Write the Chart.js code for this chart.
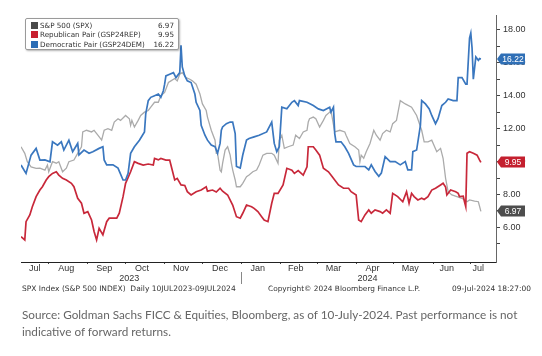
<!DOCTYPE html>
<html><head><meta charset="utf-8">
<script src="https://cdn.jsdelivr.net/npm/chart.js@4/dist/chart.umd.min.js"></script>
<style>
html,body{margin:0;padding:0;background:#fff;}
#wrap{position:relative;width:542px;height:356px;overflow:hidden;font-family:"Liberation Sans",Arial,sans-serif;}
#c{position:absolute;left:0;top:0;}
.t{position:absolute;white-space:pre;line-height:1;}
#legend{position:absolute;left:25px;top:18px;width:152px;height:30px;border:1px solid #9a9a9a;border-radius:2px;background:#fff;box-shadow:1px 1px 2px rgba(0,0,0,0.3);font-family:"DejaVu Sans",sans-serif;font-size:7.2px;color:#333;}
.row{position:absolute;left:0;right:0;height:9px;}
.sq{position:absolute;left:5px;top:1px;width:7px;height:7px;}
.lb{position:absolute;left:14px;top:0;white-space:nowrap;}
.vl{position:absolute;right:4px;top:0;white-space:nowrap;}
</style></head>
<body>
<div id="wrap">
<canvas id="c" width="542" height="356"></canvas>
<div id="legend"></div>
<div class="t fit" id="f1" data-w="214" style="left:22px;top:285px;color:#333;font-family:'DejaVu Sans',sans-serif;">SPX Index (S&amp;P 500 INDEX)  Daily 10JUL2023-09JUL2024</div>
<div class="t fit" id="f2" data-w="152" style="left:268px;top:285px;color:#333;font-family:'DejaVu Sans',sans-serif;">Copyright© 2024 Bloomberg Finance L.P.</div>
<div class="t fit" id="f3" data-w="79" style="left:452px;top:285px;color:#333;font-family:'DejaVu Sans',sans-serif;">09-Jul-2024 18:27:00</div>
<div class="t fit" id="s1" data-w="496" style="left:22px;top:309px;color:#666;font-family:Lato,sans-serif;">Source: Goldman Sachs FICC &amp; Equities, Bloomberg, as of 10-July-2024. Past performance is not</div>
<div class="t" id="s2" style="left:22px;top:326px;color:#666;font-family:Lato,sans-serif;">indicative of forward returns.</div>
</div>
<script>
// ---- data (x = days since 2023-07-01) ----
const seriesNames = ['S&P 500 (SPX)', 'Republican Pair (GSP24REP)', 'Democratic Pair (GSP24DEM)'];

const spxDays = [9,12,14,17,21,24,28,30,31,34, 37,39,42,45,47,51,54,57,58,61, 65,67,70,73,75,78,81,83,86,88, 92,95,96,97,99,102,104,107,110,112, 115,118,120,123,126,128,131,133,135,137, 140,143,145,148,151,153,156,157,160,163, 164,165,167,168,169,171,173,175,176,177, 179,180,183,185,188,190,193,196,198,201, 204,208,210,213,214,216,218,221,225,227, 230,233,236,237,238,241,243,246,249,251, 254,255,258,262,266,267,270,274,277,278, 279,281,283,286,289,291,294,296,299,302, 304,307,310,314,319,323,327,329,332,335, 339,342,344,346,348,351,355,359,363,365, 369,372,374];
const spxValues = [10.9,10.5,9.99,9.68,9.59,9.6,9.48,9.79,9.38,9.99, 9.9,9.99,9.38,9.6,9.99,10.09,10.5,10.9,11.8,11.9, 11.8,11.9,11.6,11.3,11.9,12.0,11.9,12.4,12.6,12.5, 12.8,12.6,12.2,12.5,12.1,12.5,12.8,13.0,13.1,13.3, 13.6,13.6,14.0,14.2,14.8,14.9,15.04,14.9,15.3,15.4, 15.1,15.0,14.9,14.7,14.1,13.5,13.1,12.7,11.9,11.3, 10.5,10.5,9.48,9.38,9.89,10.7,10.9,10.39,9.89,9.5, 8.88,8.47,8.47,8.68,9.08,9.18,9.38,9.48,9.79,10.39, 10.5,10.5,10.39,9.89,11.3,11.6,10.8,10.9,11.0,11.6, 11.4,11.8,11.9,12.4,12.6,12.7,12.6,12.1,12.5,12.8, 13.0,13.1,11.8,11.9,11.8,11.6,11.1,10.9,10.7,9.99, 10.39,10.2,10.6,11.1,11.9,11.6,11.3,11.7,11.9,11.8, 12.3,12.5,13.7,13.5,13.3,12.8,11.9,11.2,11.2,11.3, 10.6,10.8,10.2,8.98,8.17,7.97,7.87,7.77,7.56,7.67, 7.6,7.56,6.97];

const repDays = [9,12,13,16,18,21,24,26,29,31, 34,37,39,42,45,49,51,54,57,59, 62,65,67,69,71,74,77,79,85,87, 90,92,96,99,102,106,110,114,115,118, 120,124,127,128,131,133,136,139,141,144, 148,152,156,157,161,164,167,169,173,177, 180,183,185,188,192,194,197,200,202,205, 208,210,213,217,220,224,226,229,233,236, 237,241,243,246,249,253,255,258,261,265, 269,271,275,277,279,282,285,287,290,294, 296,299,302,304,308,312,315,317,319,321, 324,327,329,332,335,338,342,344,346,347, 350,354,356,357,360,361,362,363,365,368, 371,373,374];
const repValues = [5.44,5.24,6.35,6.76,7.26,7.87,8.27,8.47,8.88,9.08, 9.28,9.38,9.18,8.98,8.88,8.68,8.47,7.77,7.47,6.86, 6.96,6.45,5.75,5.24,5.95,5.55,6.35,6.56,6.56,6.86, 7.87,8.68,9.38,9.99,9.89,9.79,9.85,9.79,10.19,10.1, 10.19,10.09,10.09,9.79,8.88,8.98,8.58,8.55,8.17,7.97, 8.17,8.27,8.47,8.2,8.27,8.15,8.38,8.2,7.97,7.36, 6.65,6.56,6.86,7.36,7.26,7.16,6.96,6.65,6.45,6.35, 7.47,8.07,8.07,8.58,9.59,9.48,9.28,9.45,9.18,9.68, 10.9,10.9,10.7,10.39,9.59,9.38,9.18,8.88,8.58,8.38, 8.38,8.17,7.97,6.45,6.35,6.76,7.06,6.86,7.06,6.96, 6.86,7.06,6.86,8.07,7.87,7.56,8.17,7.47,8.07,7.87, 7.67,7.77,7.7,7.87,8.27,8.38,8.58,8.68,8.45,7.97, 8.27,8.17,8.07,7.87,7.9,7.56,7.26,10.5,10.6,10.5, 10.39,10.09,9.95];

const demDays = [9,13,17,21,24,28,32,34,38,41, 43,47,50,54,55,59,63,66,71,74, 75,77,82,86,90,92,94,96,99,103, 107,108,110,112,115,118,120,122,123,124, 127,130,132,135,136,137,139,141,144,147, 148,151,152,155,157,160,163,165,167,168, 169,172,175,177,179,180,183,185,188,190, 194,198,204,208,210,212,214,216,220,224, 226,229,230,236,241,245,249,254,255,257, 258,259,263,266,269,273,275,282,285,287, 290,293,295,298,302,306,310,314,316,319, 320,323,326,327,330,333,335,338,340,343, 346,348,352,355,356,359,362,363,365,366, 367,368,370,372,373,374];
const demValues = [9.79,9.28,10.39,10.8,10.09,10.1,9.99,11.2,11.0,11.2, 10.7,11.3,10.6,11.1,10.4,10.7,10.5,10.6,10.8,10.9, 10.1,9.8,9.8,9.6,8.88,8.88,9.28,10.5,10.9,11.3, 11.8,12.9,13.7,13.9,14.0,14.1,13.9,14.3,14.7,15.2, 15.3,15.4,15.1,15.4,17.06,15.75,15.2,14.9,14.8,14.1, 13.6,13.1,12.2,11.6,11.3,11.0,10.9,10.5,11.1,11.9, 12.1,12.3,12.4,12.4,11.7,9.7,9.6,10.4,11.3,11.4, 11.5,11.6,11.8,12.4,11.1,10.6,10.9,13.3,13.2,13.6, 13.7,13.4,13.7,13.6,13.4,13.2,13.1,13.3,13.0,13.3, 11.7,11.2,11.2,10.9,10.5,9.8,9.7,9.7,9.5,9.8, 9.4,9.1,9.3,10.3,10.0,10.0,9.8,10.0,9.5,9.5, 10.6,10.7,12.2,13.7,13.5,13.2,12.8,12.3,12.6,13.4, 13.6,13.8,13.7,13.7,15.1,15.1,14.7,14.7,17.5,17.8, 16.9,15.0,16.35,16.15,16.25,16.22];

// axis ticks
const monthStarts = [31,62,92,123,153,184,215,244,275,305,336,366];
const monthLabelDays = [20,45,75,105,136,167,197,227,257,288,318,347,372];
const monthLabels = ['Jul','Aug','Sep','Oct','Nov','Dec','Jan','Feb','Mar','Apr','May','Jun','Jul'];
const yearLabelDays = [95,284];
const yearLabels = ['2023','2024'];
const yearSplitDay = 184;
const yTickValues = [5,6,7,8,9,10,11,12,13,14,15,16,17,18];
const yLabelValues = [6,8,10,12,14,16,18];

// styles
const lineColors = ['#ababab', '#c8283a', '#3a77bf'];
const legendColors = ['#4a4a4a', '#c8202f', '#2c6db5'];
const boxColors = ['#4d4d4d', '#c41f2e', '#2f6fb6'];

// ---- legend (HTML) ----
const lastVals = [spxValues[spxValues.length-1], repValues[repValues.length-1], demValues[demValues.length-1]];
const lg = document.getElementById('legend');
seriesNames.forEach((n,i)=>{
  const r = document.createElement('div'); r.className='row'; r.style.top=(2+i*9.3)+'px';
  r.innerHTML = '<div class="sq" style="background:'+legendColors[i]+'"></div><div class="lb"></div><div class="vl"></div>';
  r.querySelector('.lb').textContent = n;
  r.querySelector('.vl').textContent = lastVals[i].toFixed(2);
  lg.appendChild(r);
});

// fit text widths
const mctx = document.createElement('canvas').getContext('2d');
document.querySelectorAll('.fit').forEach(el=>{
  const fam = getComputedStyle(el).fontFamily;
  mctx.font = '100px ' + fam;
  const w = mctx.measureText(el.textContent).width;
  const size = 100 * (+el.dataset.w) / w;
  el.style.fontSize = size.toFixed(2) + 'px';
  if (el.id === 's1') document.getElementById('s2').style.fontSize = size.toFixed(2)+'px';
});

// ---- chart ----
const xLabelMap = new Map();
monthLabelDays.forEach((d,i)=>xLabelMap.set(d, monthLabels[i]));
yearLabelDays.forEach((d,i)=>xLabelMap.set(d, ['', yearLabels[i]]));
const xTickValues = [...monthStarts, ...monthLabelDays, ...yearLabelDays].sort((a,b)=>a-b);

const toPts = (xs, ys) => xs.map((d,i)=>({x:d, y:ys[i]}));

const markers = {
  id: 'markers',
  afterDraw(chart){
    const {ctx, scales:{x, y}} = chart;
    ctx.save();
    const sx = Math.round(x.getPixelForValue(yearSplitDay)) + 0.5;
    ctx.strokeStyle = '#888'; ctx.lineWidth = 1;
    ctx.beginPath(); ctx.moveTo(sx, 272); ctx.lineTo(sx, 284); ctx.stroke();
    [0,1,2].forEach(i=>{
      const v = lastVals[i];
      const py = Math.round(y.getPixelForValue(v));
      const x0 = chart.chartArea.right + 1;
      ctx.fillStyle = boxColors[i];
      ctx.beginPath();
      ctx.moveTo(x0, py);
      ctx.lineTo(x0+4, py-5.5);
      ctx.lineTo(x0+28, py-5.5);
      ctx.lineTo(x0+28, py+5.5);
      ctx.lineTo(x0+4, py+5.5);
      ctx.closePath(); ctx.fill();
      ctx.fillStyle = '#fff';
      ctx.font = '8.5px "Liberation Sans"';
      ctx.textAlign = 'center'; ctx.textBaseline = 'middle';
      ctx.fillText(v.toFixed(2), x0+16, py+0.5);
    });
    ctx.restore();
  }
};

new Chart(document.getElementById('c'), {
  type: 'line',
  data: {
    datasets: [
      {label: seriesNames[0], data: toPts(spxDays, spxValues), borderColor: lineColors[0], borderWidth: 1.3, pointRadius: 0, tension: 0, order: 3},
      {label: seriesNames[1], data: toPts(repDays, repValues), borderColor: lineColors[1], borderWidth: 1.7, pointRadius: 0, tension: 0, order: 2},
      {label: seriesNames[2], data: toPts(demDays, demValues), borderColor: lineColors[2], borderWidth: 1.7, pointRadius: 0, tension: 0, order: 1}
    ]
  },
  options: {
    responsive: false, animation: false, devicePixelRatio: 1,
    layout: {padding: {left: 21, top: 15, right: 0, bottom: 0}},
    plugins: {legend: {display: false}, tooltip: {enabled: false}},
    scales: {
      x: {
        type: 'linear', position: 'bottom', min: 9, max: 386,
        afterBuildTicks: s => { s.ticks = xTickValues.map(v => ({value: v})); },
        afterFit: s => { s.height = 94; },
        grid: {drawOnChartArea: false, drawTicks: true, tickLength: 2,
               tickColor: c => (c.tick && monthStarts.includes(c.tick.value)) ? '#444' : 'rgba(0,0,0,0)'},
        border: {display: true, color: '#222', width: 1},
        ticks: {autoSkip: false, maxRotation: 0, minRotation: 0, padding: 0, color: '#333',
                font: {family: 'Liberation Sans', size: 9, lineHeight: 1.05},
                callback: v => xLabelMap.has(v) ? xLabelMap.get(v) : ''}
      },
      y: {
        type: 'linear', position: 'right', min: 3.9, max: 18.9,
        afterBuildTicks: s => { s.ticks = yTickValues.map(v => ({value: v})); },
        afterFit: s => { s.width = 46; },
        grid: {drawOnChartArea: false, drawTicks: true, tickLength: 4, tickColor: '#444'},
        border: {display: true, color: '#666', width: 1},
        ticks: {padding: 3, color: '#333', font: {family: 'Liberation Sans', size: 9},
                callback: v => yLabelValues.includes(v) ? v.toFixed(2) : ''}
      }
    }
  },
  plugins: [markers]
});
</script>
</body></html>
